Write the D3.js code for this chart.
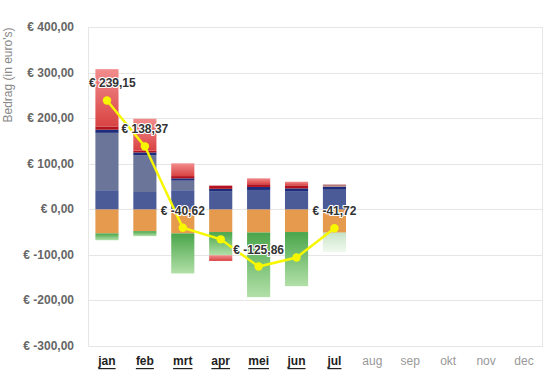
<!DOCTYPE html>
<html>
<head>
<meta charset="utf-8">
<script src="https://cdn.jsdelivr.net/npm/d3@7/dist/d3.min.js"></script>
<style>
  html, body { margin: 0; padding: 0; background: #fff; }
  svg { display: block; font-family: "Liberation Sans", Arial, sans-serif; }
</style>
</head>
<body>
<svg id="chart" width="551" height="374"></svg>
<script>
// ---- data ----
const months = ["jan","feb","mrt","apr","mei","jun","jul","aug","sep","okt","nov","dec"];
const activeMonths = ["jan","feb","mrt","apr","mei","jun","jul"];
const yTicks = [400, 300, 200, 100, 0, -100, -200, -300];
const yTitle = "Bedrag (in euro's)";

const oranje      = [-53, -48, -53, -50, -51, -50, -51];
const groen       = [-15, -11, -88, -51, -142, -119, -43];
const blauw       = [42, 38, 42, 40, 42.5, 40, 43];
const grijsblauw  = [126, 81, 21, 0, 0, 0, 0];
const donkerblauw = [7, 6, 5, 5, 6.6, 6, 6.6];
const donkerrood  = [7, 4, 5, 7, 6, 6.6, 5];
const rood        = [126, 70, 28, -12.5, 13, 8, 0];
const saldo       = [239.15, 138.37, -40.62, -66, -125.86, -106, -41.72];
const geschat     = [false, false, false, false, false, false, true];

// ---- build ----
const seriesDefs = [
  { key: "oranje", values: oranje, fill: "#e59a4e" },
  { key: "groen", values: groen, fill: "url(#gGreen)", fillEst: "url(#gGreenEst)" },
  { key: "blauw", values: blauw, fill: "#4a5b98" },
  { key: "grijsblauw", values: grijsblauw, fill: "#6b7499" },
  { key: "donkerblauw", values: donkerblauw, fill: "#1d2d7c" },
  { key: "donkerrood", values: donkerrood, fill: "#b3121f", fillEst: "#b57a7a" },
  { key: "rood", values: rood, fill: "url(#gRed)" }
];

const table = activeMonths.map((m, i) => {
  const row = { month: m, idx: i };
  seriesDefs.forEach(s => row[s.key] = s.values[i]);
  return row;
});

const svg = d3.select("#chart");
const W = 551, H = 374;
const plot = { left: 88, right: 543, top: 27.3, bottom: 345.8 };

const x = d3.scaleBand().domain(months).range([plot.left, plot.right])
  .paddingInner(0.39).paddingOuter(0.195);
const y = d3.scaleLinear().domain([-300, 400]).range([plot.bottom, plot.top]);

// gradients
const defs = svg.append("defs");
function grad(id, stops) {
  const g = defs.append("linearGradient").attr("id", id)
    .attr("x1", 0).attr("y1", 0).attr("x2", 0).attr("y2", 1);
  stops.forEach(([o, c, op]) => g.append("stop").attr("offset", o).attr("stop-color", c).attr("stop-opacity", op == null ? 1 : op));
}
grad("gRed", [[0, "#f28c8c"], [1, "#d94343"]]);
grad("gGreen", [[0, "#4aa54a"], [1, "#b2e0a8"]]);
grad("gGreenEst", [[0, "#4aa54a", 0.32], [1, "#b2e0a8", 0.2]]);

// plot border + grid
svg.append("g").selectAll("line").data(yTicks).join("line")
  .attr("x1", plot.left).attr("x2", plot.right)
  .attr("y1", d => Math.round(y(d)) + 0.5).attr("y2", d => Math.round(y(d)) + 0.5)
  .attr("stroke", "#e6e6e6").attr("stroke-width", 1);
svg.append("rect")
  .attr("x", plot.left + 0.5).attr("y", Math.round(plot.top) + 0.5)
  .attr("width", plot.right - plot.left - 1).attr("height", Math.round(plot.bottom) - Math.round(plot.top))
  .attr("fill", "none").attr("stroke", "#e6e6e6");

// stacked bars
const stack = d3.stack().keys(seriesDefs.map(s => s.key)).offset(d3.stackOffsetDiverging);
const stacked = stack(table);
const barsG = svg.append("g");
stacked.forEach((layer, si) => {
  const def = seriesDefs[si];
  barsG.append("g").selectAll("rect").data(layer.filter(d => d[1] !== d[0])).join("rect")
    .attr("x", d => x(d.data.month))
    .attr("width", x.bandwidth())
    .attr("y", d => y(Math.max(d[0], d[1])))
    .attr("height", d => Math.abs(y(d[0]) - y(d[1])))
    .attr("fill", d => (geschat[d.data.idx] && def.fillEst) ? def.fillEst : def.fill);
});

// line
const cx = (m) => x(m) + x.bandwidth() / 2;
const lineData = activeMonths.map((m, i) => ({ m, v: saldo[i] }));
svg.append("path").datum(lineData)
  .attr("d", d3.line().x(d => cx(d.m)).y(d => y(d.v)))
  .attr("fill", "none").attr("stroke", "#f7f700").attr("stroke-width", 2.5);
svg.append("g").selectAll("circle").data(lineData).join("circle")
  .attr("cx", d => cx(d.m)).attr("cy", d => y(d.v)).attr("r", 4.2)
  .attr("fill", "#f7f700");

// data labels with overlap hiding
const fmt = v => "€ " + d3.format(".2f")(v).replace(".", ",").replace("−", "-");
const labelsG = svg.append("g");
const placed = [];
lineData.forEach(d => {
  const t = labelsG.append("text")
    .attr("font-size", 12).attr("font-weight", "bold")
    .attr("fill", "#333").attr("stroke", "#fff").attr("stroke-width", 2.2)
    .attr("paint-order", "stroke").attr("stroke-linejoin", "round")
    .attr("text-anchor", "middle").attr("dominant-baseline", "central")
    .text(fmt(d.v));
  const w = t.node().getComputedTextLength();
  let lx = cx(d.m);
  lx = Math.max(lx, plot.left + w / 2 + 1);
  const ly = y(d.v) - 17;
  const box = { x0: lx - w / 2 - 3, x1: lx + w / 2 + 3, y0: ly - 9, y1: ly + 9 };
  const overlap = placed.some(b => !(box.x1 < b.x0 || box.x0 > b.x1 || box.y1 < b.y0 || box.y0 > b.y1));
  if (overlap) { t.remove(); return; }
  placed.push(box);
  t.attr("x", lx).attr("y", ly);
});

// y axis labels
svg.append("g").selectAll("text").data(yTicks).join("text")
  .attr("x", 74).attr("y", d => y(d))
  .attr("text-anchor", "end").attr("dominant-baseline", "central")
  .attr("font-size", 12).attr("font-weight", "bold").attr("fill", "#666")
  .text(d => "€ " + d3.format(".2f")(d).replace(".", ",").replace("−", "-"));

// y title
svg.append("text")
  .attr("transform", "translate(8," + 75 + ") rotate(-90)")
  .attr("text-anchor", "middle").attr("dominant-baseline", "central")
  .attr("font-size", 12).attr("fill", "#888")
  .text(yTitle);

// x axis labels
svg.append("g").selectAll("text").data(months).join("text")
  .attr("x", d => cx(d)).attr("y", 361)
  .attr("text-anchor", "middle").attr("dominant-baseline", "central")
  .attr("font-size", 12)
  .attr("font-weight", d => activeMonths.includes(d) ? "bold" : "normal")
  .attr("text-decoration", d => activeMonths.includes(d) ? "underline" : "none")
  .attr("fill", d => activeMonths.includes(d) ? "#222" : "#999")
  .text(d => d);
</script>
</body>
</html>
